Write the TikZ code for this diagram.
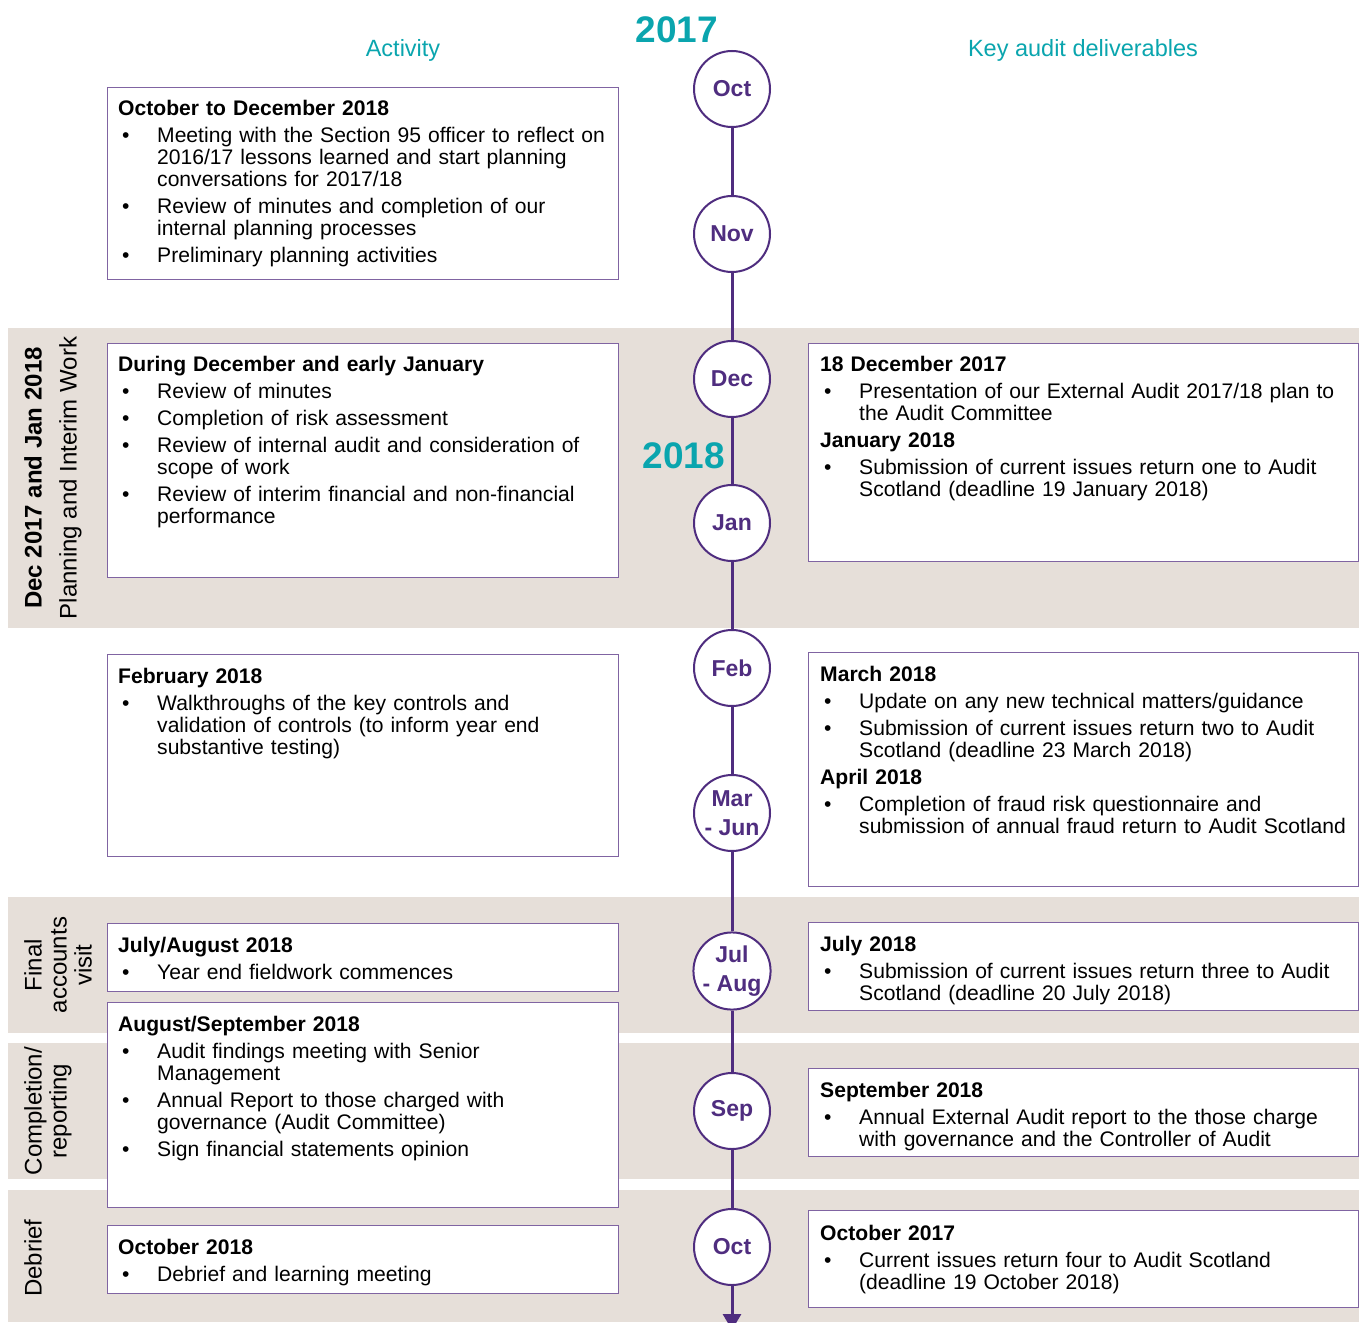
\documentclass[tikz,border=0pt]{standalone}
\usepackage{fontspec}
\setmainfont{Liberation Sans}
\usetikzlibrary{arrows.meta,positioning}

\definecolor{bandgrey}{HTML}{E6DFD9}
\definecolor{boxpurple}{HTML}{8064A2}
\definecolor{tlpurple}{HTML}{4F2D7F}
\definecolor{audteal}{HTML}{0AA5AE}

\newcommand\hd[1]{\noindent\textbf{#1}\par}
\newcommand\itm[1]{\hangindent=39pt\hangafter=0\noindent\llap{\makebox[35pt][l]{\textbullet}}#1\par}

\begin{document}
\begin{tikzpicture}[x=1pt, y=-1pt,
		band/.style={fill=bandgrey},
		box/.style={draw=boxpurple, line width=1.3pt, fill=white, anchor=north west, inner sep=0pt},
		boxtext/.style={anchor=north west, inner sep=0pt, text width=#1, align=left,
			font=\fontsize{21.1}{22}\selectfont, execute at begin node=\setlength{\parskip}{5pt}},
		month/.style={circle, draw=tlpurple, line width=2pt, fill=white, minimum size=76pt, inner sep=0pt,
			text=tlpurple, font=\fontsize{23}{28.5}\selectfont\bfseries, align=center},
		tl/.style={draw=tlpurple, line width=3pt},
		year/.style={text=audteal, font=\fontsize{37}{40}\selectfont\bfseries},
		colhead/.style={text=audteal, font=\fontsize{23.5}{26}\selectfont},
		phase/.style={rotate=90, align=center, font=\fontsize{24}{25}\selectfont}]
		\useasboundingbox (0, 0) rectangle (1359, 1322);
		% phase bands
		\fill [band] (8, 328) rectangle (1359, 628);
		\fill [band] (8, 897) rectangle (1359, 1033);
		\fill [band] (8, 1043) rectangle (1359, 1179);
		\fill [band] (8, 1190) rectangle (1359, 1322);
		\node [phase, font=\fontsize{24}{35}\selectfont] (ph1) at (53, 478) {\textbf{Dec 2017 and Jan 2018}\\Planning and Interim Work};
		\node [phase] (ph2) at (58, 965) {Final\\accounts\\visit};
		\node [phase] (ph3) at (48, 1111) {Completion/\\reporting};
		\node [phase] (ph4) at (33, 1258) {Debrief};
		% headings
		\node [colhead] (act) at (403, 50) {Activity};
		\node [colhead] (kad) at (1083, 50) {Key audit deliverables};
		\node [year] (y17) at (677, 30) {2017};
		\node [year] (y18) at (684, 456) {2018};
		% timeline
		\node [month] (m1) at (732, 89) {Oct};
		\node [month] (m2) at (732, 234) {Nov};
		\node [month] (m3) at (732, 379) {Dec};
		\node [month] (m4) at (732, 523) {Jan};
		\node [month] (m5) at (732, 668) {Feb};
		\node [month] (m6) at (732, 813) {Mar\\- Jun};
		\node [month] (m7) at (732, 971) {Jul\\- Aug};
		\node [month] (m8) at (732, 1111) {Sep};
		\node [month] (m9) at (732, 1247) {Oct};
		\coordinate (tlend) at (732, 1330);
		\foreach \a/\b in {m1/m2, m2/m3, m3/m4, m4/m5, m5/m6, m6/m7, m7/m8, m8/m9}
			\draw [tl] (\a) -- (\b);
		\draw [tl, -{Triangle[width=18pt, length=16pt]}] (m9) -- (tlend);
		% activity boxes
		\node [box, minimum width=511pt, minimum height=192pt] (a1) at (107, 87) {};
		\node [boxtext=500pt] (a1t) at ([xshift=11pt, yshift=-13pt]a1.north west) {\hd{October to December 2018}
			\itm{Meeting with the Section 95 officer to reflect on\newline 2016/17 lessons learned and start planning\newline conversations for 2017/18}
			\itm{Review of minutes and completion of our\newline internal planning processes}
			\itm{Preliminary planning activities}};
		\node [box, minimum width=511pt, minimum height=234pt] (a2) at (107, 343) {};
		\node [boxtext=500pt] (a2t) at ([xshift=11pt, yshift=-13pt]a2.north west) {\hd{During December and early January}
			\itm{Review of minutes}
			\itm{Completion of risk assessment}
			\itm{Review of internal audit and consideration of\newline scope of work}
			\itm{Review of interim financial and non-financial\newline performance}};
		\node [box, minimum width=511pt, minimum height=202pt] (a3) at (107, 654) {};
		\node [boxtext=500pt] (a3t) at ([xshift=11pt, yshift=-14pt]a3.north west) {\hd{February 2018}
			\itm{Walkthroughs of the key controls and\newline validation of controls (to inform year end\newline substantive testing)}};
		\node [box, minimum width=511pt, minimum height=68pt] (a4) at (107, 923) {};
		\node [boxtext=500pt] (a4t) at ([xshift=11pt, yshift=-14pt]a4.north west) {\hd{July/August 2018}
			\itm{Year end fieldwork commences}};
		\node [box, minimum width=511pt, minimum height=205pt] (a5) at (107, 1002) {};
		\node [boxtext=500pt] (a5t) at ([xshift=11pt, yshift=-14pt]a5.north west) {\hd{August/September 2018}
			\itm{Audit findings meeting with Senior\newline Management}
			\itm{Annual Report to those charged with\newline governance (Audit Committee)}
			\itm{Sign financial statements opinion}};
		\node [box, minimum width=511pt, minimum height=68pt] (a6) at (107, 1225) {};
		\node [boxtext=500pt] (a6t) at ([xshift=11pt, yshift=-14pt]a6.north west) {\hd{October 2018}
			\itm{Debrief and learning meeting}};
		% deliverable boxes
		\node [box, minimum width=550pt, minimum height=218pt] (d1) at (808, 343) {};
		\node [boxtext=540pt] (d1t) at ([xshift=12pt, yshift=-13pt]d1.north west) {\hd{18 December 2017}
			\itm{Presentation of our External Audit 2017/18 plan to\newline the Audit Committee}
			\hd{January 2018}
			\itm{Submission of current issues return one to Audit\newline Scotland (deadline 19 January 2018)}};
		\node [box, minimum width=550pt, minimum height=234pt] (d2) at (808, 652) {};
		\node [boxtext=540pt] (d2t) at ([xshift=12pt, yshift=-14pt]d2.north west) {\hd{March 2018}
			\itm{Update on any new technical matters/guidance}
			\itm{Submission of current issues return two to Audit\newline Scotland (deadline 23 March 2018)}
			\hd{April 2018}
			\itm{Completion of fraud risk questionnaire and\newline submission of annual fraud return to Audit Scotland}};
		\node [box, minimum width=550pt, minimum height=88pt] (d3) at (808, 922) {};
		\node [boxtext=540pt] (d3t) at ([xshift=12pt, yshift=-14pt]d3.north west) {\hd{July 2018}
			\itm{Submission of current issues return three to Audit\newline Scotland (deadline 20 July 2018)}};
		\node [box, minimum width=550pt, minimum height=88pt] (d4) at (808, 1068) {};
		\node [boxtext=540pt] (d4t) at ([xshift=12pt, yshift=-14pt]d4.north west) {\hd{September 2018}
			\itm{Annual External Audit report to the those charge\newline with governance and the Controller of Audit}};
		\node [box, minimum width=550pt, minimum height=97pt] (d5) at (808, 1210) {};
		\node [boxtext=540pt] (d5t) at ([xshift=12pt, yshift=-15pt]d5.north west) {\hd{October 2017}
			\itm{Current issues return four to Audit Scotland\newline (deadline 19 October 2018)}};
	\end{tikzpicture}
\end{document}
